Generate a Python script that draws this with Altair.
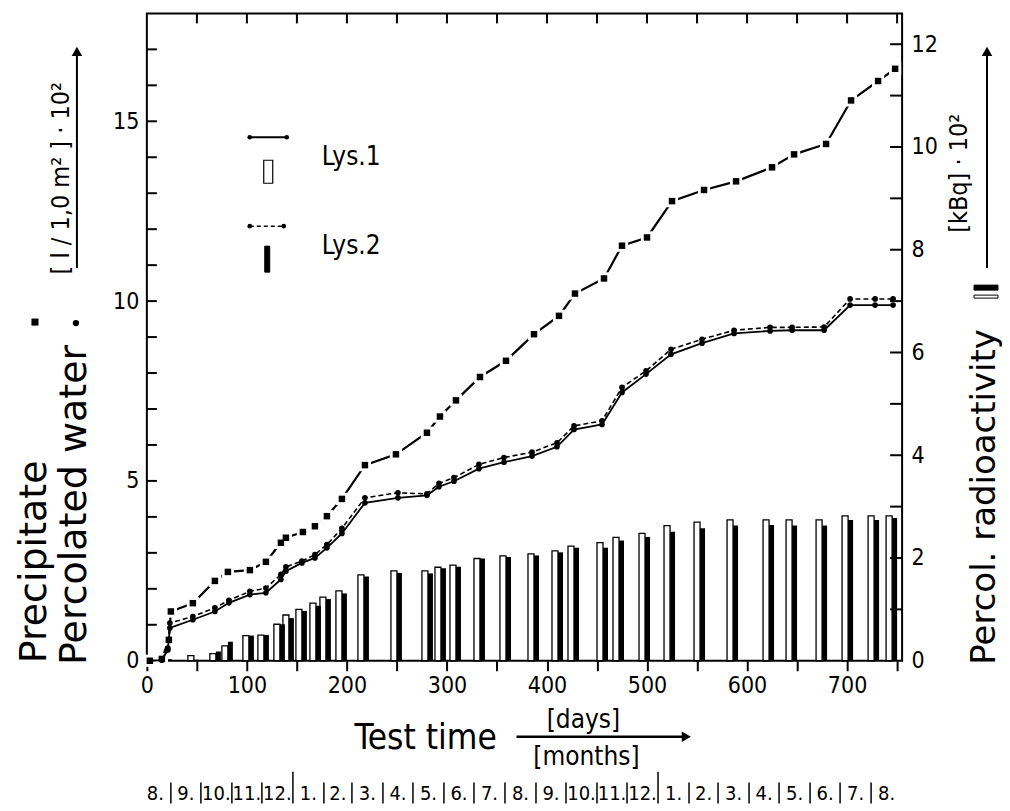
import altair as alt
import pandas as pd

FONT = "DejaVu Sans Condensed, DejaVu Sans"
FONT_W = "DejaVu Sans"

# ---------------- data ----------------
# Precipitation (left axis, l/1.0 m2 * 10^2)
P_DAYS = [3, 15, 22, 24, 46, 68, 81, 103, 119, 134, 139, 156, 168, 180, 195, 218, 249,
          280, 293, 309, 333, 359, 387, 412, 428, 457, 475, 500, 525, 557, 589, 625,
          647, 679, 704, 731, 748]
P_VALS = [0.0, 0.05, 0.58, 1.37, 1.6, 2.22, 2.47, 2.52, 2.75, 3.28, 3.42, 3.58, 3.74,
          4.02, 4.50, 5.44, 5.74, 6.34, 6.79, 7.24, 7.89, 8.34, 9.08, 9.59, 10.21,
          10.63, 11.54, 11.77, 12.78, 13.09, 13.33, 13.72, 14.08, 14.37, 15.58, 16.12, 16.46]

# Percolated water (left axis)
L_DAYS = [3, 15, 21, 23, 46, 68, 82, 103, 119, 134, 139, 155, 168, 180, 195, 218, 251,
          280, 292, 307, 332, 357, 385, 410, 427, 455, 475, 499, 524, 555, 587, 623,
          645, 677, 703, 728, 746]
L1_VALS = [0.0, 0.02, 0.30, 0.91, 1.14, 1.37, 1.61, 1.84, 1.89, 2.26, 2.49, 2.72, 2.86,
           3.14, 3.54, 4.39, 4.53, 4.60, 4.84, 4.99, 5.34, 5.52, 5.69, 5.95, 6.43, 6.57,
           7.46, 7.97, 8.52, 8.83, 9.10, 9.17, 9.19, 9.19, 9.89, 9.89, 9.89]
L2_VALS = [0.0, 0.02, 0.35, 1.05, 1.23, 1.47, 1.68, 1.93, 2.02, 2.40, 2.61, 2.77, 2.95,
           3.23, 3.68, 4.53, 4.67, 4.64, 4.93, 5.09, 5.46, 5.65, 5.80, 6.06, 6.53, 6.67,
           7.60, 8.06, 8.66, 8.94, 9.19, 9.27, 9.27, 9.28, 10.06, 10.06, 10.06]

# Percolated radioactivity (right axis, kBq * 10^2)
B_DAYS = [14, 41, 63, 75, 96, 111, 127, 136, 149, 163, 173, 189, 211, 244, 275, 288, 303,
          327, 353, 381, 405, 421, 450, 466, 492, 517, 547, 580, 616, 639, 669, 695, 721, 739]
B1_VALS = [0.04, 0.10, 0.14, 0.29, 0.49, 0.50, 0.71, 0.89, 1.00, 1.12, 1.24, 1.36, 1.67,
           1.75, 1.75, 1.82, 1.86, 1.99, 2.04, 2.08, 2.14, 2.23, 2.30, 2.40, 2.48, 2.63,
           2.70, 2.74, 2.74, 2.74, 2.74, 2.82, 2.82, 2.82]
B2_VALS = [0.03, 0.02, 0.18, 0.37, 0.49, 0.50, 0.71, 0.83, 0.97, 1.07, 1.20, 1.31, 1.64,
           1.71, 1.70, 1.80, 1.83, 1.99, 2.02, 2.05, 2.11, 2.20, 2.20, 2.34, 2.41, 2.51,
           2.58, 2.63, 2.64, 2.63, 2.63, 2.74, 2.74, 2.78]

X_TICKS = list(range(0, 751, 50))
TOP_TICKS = list(range(50, 751, 50))
YL_LABELS = [0, 5, 10, 15]
YR_LABELS = [0, 2, 4, 6, 8, 10, 12]
YL_MINOR = list(range(1, 18))
YR_MINOR = list(range(1, 13))

START = pd.Timestamp("1982-08-08")
MONTH_STARTS = pd.date_range("1982-08-01", "1984-09-01", freq="MS")

# ---------------- geometry ----------------
W, H = 756, 648
XMAX = 755
xs = alt.Scale(domain=[0, XMAX], nice=False, zero=False)
yls = alt.Scale(domain=[0, 18], nice=False)
yrs = alt.Scale(domain=[0, 12.6], nice=False)

x_axis = alt.Axis(values=X_TICKS, labelExpr="datum.value % 100 === 0 ? datum.label : ''",
                  format="d", tickSize=10, tickWidth=2, tickColor="black", domain=False,
                  grid=False, labelFont=FONT, labelFontSize=23, labelColor="black",
                  labelPadding=4, labelFlush=False, labelOverlap=False, title=None)
yl_axis = alt.Axis(values=YL_LABELS, format="d", ticks=False, domain=False, grid=False,
                   labelFont=FONT, labelFontSize=23, labelColor="black", labelPadding=8,
                   title=None)
yr_axis = alt.Axis(orient="right", values=YR_LABELS, format="d", ticks=False, domain=False,
                   grid=False, labelFont=FONT, labelFontSize=23, labelColor="black",
                   labelPadding=9, title=None)

ONE = pd.DataFrame({"k": [0]})


def X(field):
    return alt.X(field, scale=xs, axis=x_axis)


def YL(field):
    return alt.Y(field, scale=yls, axis=yl_axis)


def YR(field):
    return alt.Y(field, scale=yrs, axis=yr_axis)


def ftext(txt, x, y, size, angle=0, align="center", font=FONT):
    return alt.Chart(ONE).mark_text(text=txt, font=font, fontSize=size, angle=angle,
                                    align=align, baseline="middle", color="black").encode(
        x=alt.value(x), y=alt.value(y))


def frule(x1, y1, x2, y2, w=2, dash=None):
    kw = dict(color="black", strokeWidth=w)
    if dash:
        kw["strokeDash"] = dash
    return alt.Chart(ONE).mark_rule(**kw).encode(
        x=alt.value(x1), y=alt.value(y1), x2=alt.value(x2), y2=alt.value(y2))


def fpoint(x, y, shape, size):
    return alt.Chart(ONE).mark_point(shape=shape, filled=True, size=size, color="black",
                                     opacity=1).encode(x=alt.value(x), y=alt.value(y))


def frect(x1, y1, x2, y2, fill, sw=1.3):
    return alt.Chart(ONE).mark_rect(fill=fill, stroke="black", strokeWidth=sw).encode(
        x=alt.value(x1), y=alt.value(y1), x2=alt.value(x2), y2=alt.value(y2))


# ---------------- bars (right axis) ----------------
bars_df = pd.DataFrame({"day": B_DAYS, "b1": B1_VALS, "b2": B2_VALS})
open_bars = alt.Chart(bars_df).transform_calculate(x2="datum.day + 6").mark_rect(
    fill="white", stroke="black", strokeWidth=1.3).encode(
    x=X("day:Q"), x2="x2:Q", y=YR("b1:Q"), y2=alt.datum(0))
filled_bars = alt.Chart(bars_df).transform_calculate(
    xa="datum.day + 6", xb="datum.day + 11").mark_rect(fill="black").encode(
    x=X("xa:Q"), x2="xb:Q", y=YR("b2:Q"), y2=alt.datum(0))
right_ticks = alt.Chart(pd.DataFrame({"v": YR_MINOR})).mark_rule(
    color="black", strokeWidth=2).encode(
    y=YR("v:Q"), x=alt.value(W - 12), x2=alt.value(W))
bars_group = alt.layer(open_bars, filled_bars, right_ticks)

# ---------------- lines (left axis) ----------------
prec_df = pd.DataFrame({"day": P_DAYS, "v": P_VALS})
perc_df = pd.DataFrame({"day": L_DAYS, "l1": L1_VALS, "l2": L2_VALS})

prec_line = alt.Chart(prec_df).mark_line(color="black", strokeWidth=2.2).encode(
    x=X("day:Q"), y=YL("v:Q"))
prec_halo = alt.Chart(prec_df).mark_point(shape="square", filled=True, color="white",
                                          size=150, opacity=1).encode(
    x=X("day:Q"), y=YL("v:Q"))
prec_pts = alt.Chart(prec_df).mark_point(shape="square", filled=True, color="black",
                                         size=42, opacity=1).encode(
    x=X("day:Q"), y=YL("v:Q"))

l1_line = alt.Chart(perc_df).mark_line(color="black", strokeWidth=1.8).encode(
    x=X("day:Q"), y=YL("l1:Q"))
l2_line = alt.Chart(perc_df).mark_line(color="black", strokeWidth=1.6,
                                       strokeDash=[5, 3]).encode(
    x=X("day:Q"), y=YL("l2:Q"))
l1_pts = alt.Chart(perc_df).mark_point(shape="circle", filled=True, color="black",
                                       size=32, opacity=1).encode(
    x=X("day:Q"), y=YL("l1:Q"))
l2_pts = alt.Chart(perc_df).mark_point(shape="circle", filled=True, color="black",
                                       size=32, opacity=1).encode(
    x=X("day:Q"), y=YL("l2:Q"))

left_ticks = alt.Chart(pd.DataFrame({"v": YL_MINOR})).mark_rule(
    color="black", strokeWidth=2).encode(
    y=YL("v:Q"), x=alt.value(0), x2=alt.value(10))
top_ticks = alt.Chart(pd.DataFrame({"day": TOP_TICKS})).mark_rule(
    color="black", strokeWidth=2).encode(x=X("day:Q"), y=alt.value(0), y2=alt.value(10))

# month strip below the axis
bounds = [(d - START).days for d in MONTH_STARTS]
m_lab = pd.DataFrame({
    "day": [(bounds[i] + bounds[i + 1]) / 2 for i in range(len(bounds) - 1)],
    "txt": [f"{d.month}." for d in MONTH_STARTS[:-1]],
})
seps = pd.DataFrame({"day": bounds[1:-1], "jan": [d.month == 1 for d in MONTH_STARTS[1:-1]]})
month_text = alt.Chart(m_lab).mark_text(font=FONT, fontSize=20, color="black",
                                        baseline="middle").encode(
    x=X("day:Q"), y=alt.value(781), text="txt:N")
sep_norm = alt.Chart(seps[~seps.jan]).mark_rule(color="black", strokeWidth=1.5).encode(
    x=X("day:Q"), y=alt.value(770), y2=alt.value(791))
sep_jan = alt.Chart(seps[seps.jan]).mark_rule(color="black", strokeWidth=1.5).encode(
    x=X("day:Q"), y=alt.value(759), y2=alt.value(791))

lines_group = alt.layer(prec_line, prec_halo, prec_pts, l1_line, l2_line, l1_pts, l2_pts,
                        left_ticks, top_ticks, month_text, sep_norm, sep_jan)

# ---------------- annotations (pixel positions relative to plot origin) ----------------
ann = [
    # in-plot legend
    frule(103, 124, 140, 124, w=2), fpoint(103, 124, "circle", 22), fpoint(140, 124, "circle", 22),
    frect(117, 147, 126, 170, "white", 1.2),
    ftext("Lys.1", 175, 144, 26, align="left"),
    frule(103, 213, 137, 213, w=1.6, dash=[4, 3]), fpoint(103, 213, "circle", 22),
    fpoint(137, 213, "circle", 22),
    frect(118, 233, 123, 259, "black", 1),
    ftext("Lys.2", 175, 233, 26, align="left"),
    # left titles
    ftext("Precipitate", -112, 549, 38, angle=270, font=FONT_W),
    ftext("Percolated water", -72, 492, 38, angle=270, font=FONT_W),
    fpoint(-112, 309, "square", 50),
    fpoint(-71, 310, "circle", 40),
    ftext("[ l / 1,0 m² ] · 10²", -86, 165, 25, angle=270),
    frule(-70, 255, -70, 40, w=2),
    fpoint(-70, 38, "triangle-up", 110),
    # right titles
    ftext("Percol. radioactivity", 839, 484, 34, angle=270, font=FONT_W),
    frect(828, 272, 852, 277, "black", 1),
    frect(828, 282, 852, 285, "white", 1),
    ftext("[kBq] · 10²", 813, 160, 25, angle=270),
    frule(841, 255, 841, 40, w=2),
    fpoint(841, 38, "triangle-up", 110),
    # bottom title
    ftext("Test time", 279, 725, 35),
    frule(370, 724, 536, 724, w=2.5),
    fpoint(540, 724, "triangle-right", 110),
    ftext("[days]", 437, 707, 26),
    ftext("[months]", 440, 744, 26),
]

chart = alt.layer(bars_group, lines_group, *ann).resolve_scale(y="independent").properties(
    width=W, height=H,
    autosize=alt.AutoSizeParams(type="none"),
    padding={"left": 139, "top": 5, "right": 100, "bottom": 144},
).configure_view(stroke="black", strokeWidth=2).configure_axis(labelColor="black")

chart.save("out.html", embed_options={"renderer": "svg", "actions": False})
